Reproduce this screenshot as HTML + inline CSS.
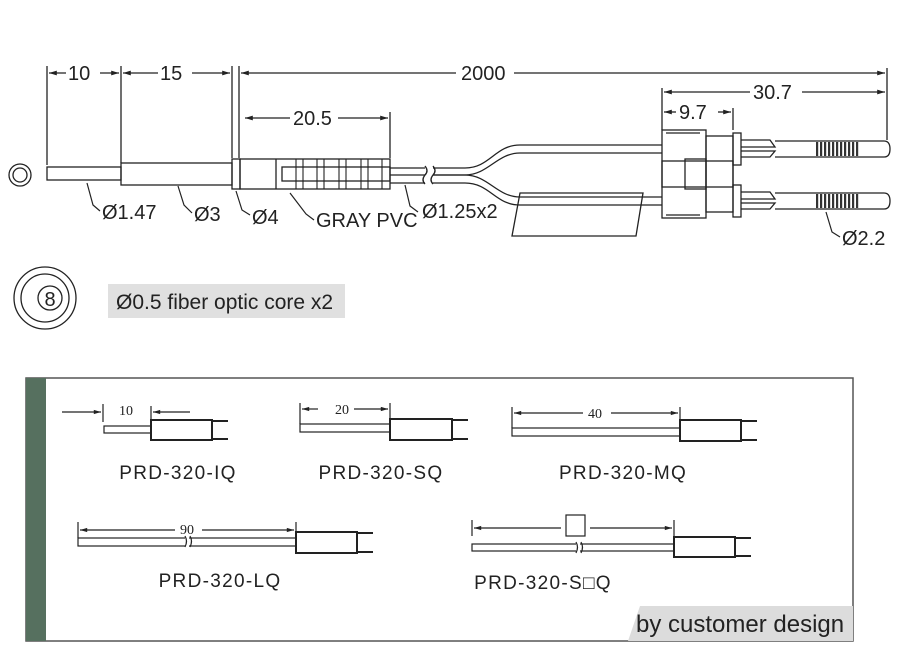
<!DOCTYPE html>
<html><head><meta charset="utf-8"><style>
html,body{margin:0;padding:0;background:#fff}
svg{display:block}
text{font-family:"Liberation Sans",sans-serif;fill:#222}
.s{font-family:"Liberation Serif",serif}
</style></head><body>
<svg width="900" height="655" viewBox="0 0 900 655" xmlns="http://www.w3.org/2000/svg">
<defs>
<marker id="a" viewBox="0 0 10 10" refX="10" refY="5" markerWidth="8" markerHeight="6" orient="auto-start-reverse"><path d="M0,2 L10,5 L0,8 z" fill="#222"/></marker>
<pattern id="rib" width="4" height="10" patternUnits="userSpaceOnUse"><rect width="2.2" height="10" fill="#333"/></pattern>
</defs>
<g stroke="#222" fill="none" stroke-width="1.3">
<line x1="47" y1="66" x2="47" y2="165"/>
<line x1="121" y1="66" x2="121" y2="163"/>
<line x1="232" y1="66" x2="232" y2="158"/>
<line x1="239" y1="66" x2="239" y2="158"/>
<line x1="887" y1="68" x2="887" y2="140"/>
<line x1="49" y1="73" x2="66" y2="73" marker-start="url(#a)"/>
<line x1="100" y1="73" x2="119" y2="73" marker-end="url(#a)"/>
<line x1="123" y1="73" x2="158" y2="73" marker-start="url(#a)"/>
<line x1="192" y1="73" x2="230" y2="73" marker-end="url(#a)"/>
<line x1="241" y1="73" x2="456" y2="73" marker-start="url(#a)"/>
<line x1="514" y1="73" x2="885" y2="73" marker-end="url(#a)"/>
<line x1="245" y1="118" x2="290" y2="118" marker-start="url(#a)"/>
<line x1="338" y1="118" x2="388" y2="118" marker-end="url(#a)"/>
<line x1="390" y1="112" x2="390" y2="158"/>
<line x1="662" y1="88" x2="662" y2="130"/>
<line x1="733" y1="108" x2="733" y2="130"/>
<line x1="664" y1="92" x2="750" y2="92" marker-start="url(#a)"/>
<line x1="802" y1="92" x2="885" y2="92" marker-end="url(#a)"/>
<line x1="664" y1="112" x2="676" y2="112" marker-start="url(#a)"/>
<line x1="718" y1="112" x2="731" y2="112" marker-end="url(#a)"/>
<circle cx="20" cy="175" r="11"/><circle cx="20" cy="175" r="7"/>
<rect x="47" y="167" width="74" height="13"/>
<rect x="121" y="163" width="111" height="22"/>
<rect x="232" y="159" width="8" height="30"/>
<rect x="240" y="159" width="150" height="30"/>
<line x1="276" y1="159" x2="276" y2="189"/>
<rect x="282" y="167" width="108" height="14"/>
<g stroke-width="1.1">
<line x1="296" y1="159" x2="296" y2="189"/><line x1="303" y1="159" x2="303" y2="189"/>
<line x1="317" y1="159" x2="317" y2="189"/><line x1="324" y1="159" x2="324" y2="189"/>
<line x1="339" y1="159" x2="339" y2="189"/><line x1="346" y1="159" x2="346" y2="189"/>
<line x1="361" y1="159" x2="361" y2="189"/><line x1="368" y1="159" x2="368" y2="189"/>
<line x1="382" y1="159" x2="382" y2="189"/>
</g>
<line x1="390" y1="168" x2="425" y2="168"/><line x1="390" y1="175" x2="425" y2="175"/><line x1="390" y1="183" x2="425" y2="183"/>
<path d="M425,166 q4,5 0,9 q-4,5 0,9"/><path d="M433,166 q4,5 0,9 q-4,5 0,9"/>
<path d="M433,168 L465,168 C490,168 495,145 520,145 L662,145"/>
<path d="M433,175 L465,175 C488,175 497,153 520,153 L662,153"/>
<path d="M433,175 L465,175 C488,175 497,197 520,197 L662,197"/>
<path d="M433,183 L465,183 C490,183 495,205 520,205 L662,205"/>
<path d="M520,193 L643,193 L636,236 L512,236 z"/>
<rect x="662" y="130" width="44" height="88"/>
<rect x="706" y="136" width="27" height="76"/>
<rect x="662" y="161" width="71" height="26"/>
<rect x="685" y="159" width="21" height="30"/>
<line x1="666" y1="133" x2="700" y2="133"/><line x1="666" y1="215" x2="700" y2="215"/>
<rect x="733" y="133" width="8" height="32"/><rect x="733" y="185" width="8" height="32"/>
<path d="M741,140 L770,140 L775,147 L741,147"/><path d="M741,157 L770,157 L775,151 L741,151"/>
<path d="M741,192 L770,192 L775,199 L741,199"/><path d="M741,209 L770,209 L775,203 L741,203"/>
<path d="M775,141 L884,141 Q890,141 890,149 Q890,157 884,157 L775,157"/>
<path d="M775,193 L884,193 Q890,193 890,201 Q890,209 884,209 L775,209"/>
</g>
<rect x="815" y="142" width="45" height="14" fill="url(#rib)"/>
<rect x="815" y="194" width="45" height="14" fill="url(#rib)"/>
<g stroke="#222" fill="none" stroke-width="1.2">
<path d="M87,183 L93,205 L100,211"/><path d="M178,186 L184,205 L192,213"/>
<path d="M236,191 L242,210 L250,215"/><path d="M290,193 L306,214 L314,220"/>
<path d="M405,185 L410,206 L418,212"/><path d="M826,212 L832,232 L840,237"/>
</g>
<g font-size="20">
<text x="68" y="80">10</text><text x="160" y="80">15</text>
<text x="461" y="80">2000</text><text x="293" y="125">20.5</text>
<text x="753" y="99">30.7</text><text x="679" y="119">9.7</text>
<text x="102" y="219">Ø1.47</text><text x="194" y="221">Ø3</text>
<text x="252" y="224">Ø4</text><text x="316" y="227">GRAY PVC</text>
<text x="422" y="218">Ø1.25x2</text><text x="842" y="245">Ø2.2</text>
</g>
<g stroke="#222" fill="none" stroke-width="1.3">
<circle cx="45" cy="298" r="31"/><circle cx="45" cy="298" r="24"/><circle cx="50" cy="298" r="12"/>
</g>
<text x="50" y="306" font-size="20" text-anchor="middle">8</text>
<rect x="108" y="284" width="237" height="34" fill="#e0e0e0"/>
<text x="116" y="309" font-size="21">Ø0.5 fiber optic core x2</text>
<rect x="26" y="378" width="827" height="263" fill="#fff" stroke="#555" stroke-width="1.5"/>
<rect x="26" y="378" width="20" height="263" fill="#56705f"/>
<path d="M640,606 L853,606 L853,641 L628,641 z" fill="#dcdcdc"/>
<text x="636" y="632" font-size="24">by customer design</text>
<g stroke="#222" fill="none" stroke-width="1.2">
<line x1="62" y1="412" x2="101" y2="412" marker-end="url(#a)"/>
<line x1="103" y1="404" x2="103" y2="422"/><line x1="151" y1="406" x2="151" y2="420"/>
<line x1="153" y1="412" x2="190" y2="412" marker-start="url(#a)"/>
<rect x="104" y="426" width="47" height="7"/>
<rect x="151" y="420" width="61" height="20" stroke-width="2"/>
<line x1="212" y1="421" x2="228" y2="421" stroke-width="2"/><line x1="212" y1="439" x2="228" y2="439" stroke-width="2"/>
<line x1="300" y1="403" x2="300" y2="424"/><line x1="390" y1="403" x2="390" y2="419"/>
<line x1="302" y1="409" x2="318" y2="409" marker-start="url(#a)"/>
<line x1="354" y1="409" x2="388" y2="409" marker-end="url(#a)"/>
<rect x="300" y="424" width="90" height="8"/>
<rect x="390" y="419" width="62" height="21" stroke-width="2"/>
<line x1="452" y1="420" x2="468" y2="420" stroke-width="2"/><line x1="452" y1="439" x2="468" y2="439" stroke-width="2"/>
<line x1="512" y1="407" x2="512" y2="428"/><line x1="680" y1="407" x2="680" y2="420"/>
<line x1="514" y1="413" x2="583" y2="413" marker-start="url(#a)"/>
<line x1="611" y1="413" x2="678" y2="413" marker-end="url(#a)"/>
<rect x="512" y="428" width="168" height="8"/>
<rect x="680" y="420" width="61" height="21" stroke-width="2"/>
<line x1="741" y1="421" x2="757" y2="421" stroke-width="2"/><line x1="741" y1="440" x2="757" y2="440" stroke-width="2"/>
<line x1="78" y1="522" x2="78" y2="538"/><line x1="296" y1="522" x2="296" y2="532"/>
<line x1="80" y1="530" x2="175" y2="530" marker-start="url(#a)"/>
<line x1="202" y1="530" x2="294" y2="530" marker-end="url(#a)"/>
<rect x="78" y="538" width="218" height="8"/>
<line x1="187" y1="537" x2="187" y2="547" stroke="#fff" stroke-width="4"/>
<path d="M185,536 q3,5 0,11 M190,536 q3,5 0,11"/>
<rect x="296" y="532" width="61" height="21" stroke-width="2"/>
<line x1="357" y1="533" x2="373" y2="533" stroke-width="2"/><line x1="357" y1="552" x2="373" y2="552" stroke-width="2"/>
<line x1="472" y1="520" x2="472" y2="536"/><line x1="674" y1="520" x2="674" y2="537"/>
<line x1="474" y1="528" x2="561" y2="528" marker-start="url(#a)"/>
<line x1="590" y1="528" x2="672" y2="528" marker-end="url(#a)"/>
<rect x="566" y="515" width="19" height="21"/>
<rect x="472" y="544" width="202" height="7"/>
<line x1="578" y1="543" x2="578" y2="552" stroke="#fff" stroke-width="4"/>
<path d="M576,542 q3,5 0,11 M581,542 q3,5 0,11"/>
<rect x="674" y="537" width="61" height="20" stroke-width="2"/>
<line x1="735" y1="538" x2="751" y2="538" stroke-width="2"/><line x1="735" y1="556" x2="751" y2="556" stroke-width="2"/>
</g>
<g font-size="14">
<text x="119" y="415" class="s">10</text><text x="335" y="414" class="s">20</text>
<text x="588" y="418" class="s">40</text><text x="180" y="534" class="s">90</text>
</g>
<g font-size="19" text-anchor="middle" letter-spacing="1.3">
<text x="178" y="479">PRD-320-IQ</text><text x="381" y="479">PRD-320-SQ</text>
<text x="623" y="479">PRD-320-MQ</text><text x="220" y="587">PRD-320-LQ</text>
<text x="543" y="589">PRD-320-S□Q</text>
</g>
</svg>
</body></html>
